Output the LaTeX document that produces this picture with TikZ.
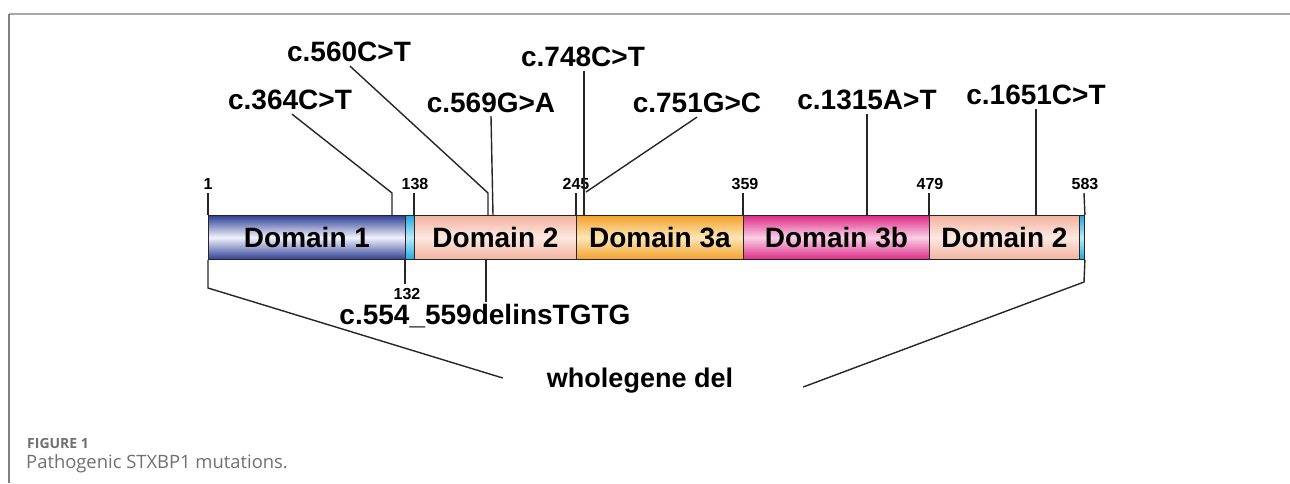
\documentclass[tikz,border=0pt]{standalone}
\usepackage{fontspec}
\setmainfont{Liberation Sans}
\newfontfamily\capfont{Open Sans}
\usetikzlibrary{calc}

\definecolor{framegray}{HTML}{A8A8A8}
\definecolor{framedark}{HTML}{808080}
\definecolor{capgray}{HTML}{707070}
\definecolor{dOneTop}{HTML}{2F3F96}
\definecolor{dOneMid}{HTML}{F0F2FB}
\definecolor{dTwoTop}{HTML}{F2B29E}
\definecolor{dTwoMid}{HTML}{FDE9E2}
\definecolor{dThreeATop}{HTML}{F3A12A}
\definecolor{dThreeAMid}{HTML}{FDE6B8}
\definecolor{dThreeBTop}{HTML}{DC2A86}
\definecolor{dThreeBMid}{HTML}{FAD0E5}
\definecolor{linkTop}{HTML}{1EA8E0}
\definecolor{linkMid}{HTML}{BDEBFA}

\newcommand{\domfont}{\fontsize{28}{30}\selectfont\bfseries}
\newcommand{\mutfont}{\fontsize{28}{30}\selectfont\bfseries}
\newcommand{\resfont}{\fontsize{16}{18}\selectfont\bfseries}

\tikzset{
  dom/.style={draw=black!85, line width=0.9pt, minimum height=44, inner sep=0,
              anchor=north west, font=\domfont},
  mut/.style={font=\mutfont, inner sep=0},
  resnum/.style={font=\resfont, inner sep=0},
  lead/.style={line width=1.4pt, draw=black!85},
  tickline/.style={line width=1.4pt, draw=black!85}
}

\begin{document}
\begin{tikzpicture}[x=1pt,y=-1pt]
\useasboundingbox (0,0) rectangle (1290,483);
\fill[white] (0,0) rectangle (1290,483);

% frame
\draw[framegray, line width=2pt] (9,14) -- (1290,14);
\draw[framedark, line width=1.6pt] (9,14) -- (9,483);

% protein bar
\node[dom, minimum width=197, top color=dOneTop, bottom color=dOneTop, middle color=dOneMid] (d1) at (208,215) {Domain 1};
\node[dom, minimum width=9, top color=linkTop, bottom color=linkTop, middle color=linkMid] (l1) at (405,215) {};
\node[dom, minimum width=162, top color=dTwoTop, bottom color=dTwoTop, middle color=dTwoMid] (d2) at (414,215) {Domain 2};
\node[dom, minimum width=167, top color=dThreeATop, bottom color=dThreeATop, middle color=dThreeAMid] (d3a) at (576,215) {Domain 3a};
\node[dom, minimum width=186, top color=dThreeBTop, bottom color=dThreeBTop, middle color=dThreeBMid] (d3b) at (743,215) {Domain 3b};
\node[dom, minimum width=150, top color=dTwoTop, bottom color=dTwoTop, middle color=dTwoMid] (d2b) at (929,215) {Domain 2};
\node[dom, minimum width=5, top color=linkTop, bottom color=linkTop, middle color=linkMid] (l2) at (1079,215) {};

% residue numbers and ticks
\node[resnum] (p1)   at (208,184) {1};
\node[resnum] (p138) at (415,184) {138};
\node[resnum] (p245) at (576,184) {245};
\node[resnum] (p359) at (745,184) {359};
\node[resnum] (p479) at (930,184) {479};
\node[resnum] (p583) at (1085,184) {583};
\node[resnum] (p132) at (407,294) {132};

\draw[tickline] (208,193) -- (d1.north west);
\draw[tickline] (414,193) -- (d2.north west);
\draw[tickline] (576,193) -- (d3a.north west);
\draw[tickline] (743,193) -- (d3b.north west);
\draw[tickline] (929,193) -- (d2b.north west);
\draw[tickline] (1084,193) -- (l2.north east);
\draw[tickline] (l1.south west) -- (405,284);

% mutation labels
\node[mut] (m560)  at (349,52)  {c.560C>T};
\node[mut] (m748)  at (583,57)  {c.748C>T};
\node[mut] (m364)  at (290,100) {c.364C>T};
\node[mut] (m569)  at (491,103) {c.569G>A};
\node[mut] (m751)  at (697,103) {c.751G>C};
\node[mut] (m1315) at (867,100) {c.1315A>T};
\node[mut] (m1651) at (1036,95) {c.1651C>T};
\node[mut] (mdel)  at (485,316) {c.554\_559delinsTGTG};
\node[mut, font=\fontsize{27}{29}\selectfont\bfseries] (whole) at (640,381) {wholegene del};

% leader lines
\coordinate (b364) at (392,193);
\coordinate (b560) at (488,193);
\coordinate (b751) at (586,192);
\draw[lead] ($(m364.south)+(2,4)$) -- (b364) -- (392,215);
\draw[lead] ($(m560.south)+(1,4)$) -- (b560) -- (488,215);
\draw[lead] ($(m569.south)+(0,3)$) -- (493,215);
\draw[lead] ($(m748.south)+(1,4)$) -- (584,215);
\draw[lead] ($(m751.south)+(0,4)$) -- (b751);
\draw[lead] ($(m1315.south)+(0,4)$) -- (867,215);
\draw[lead] ($(m1651.south)+(0,4)$) -- (1036,215);
\draw[lead] (486,259) -- ($(mdel.north)+(1,-2)$);

% whole-gene deletion brackets
\coordinate (wl) at (208,288);
\coordinate (wr) at (1084,282);
\draw[lead] (d1.south west) -- (wl) -- ($(whole.west)+(-44,-3)$);
\draw[lead] (l2.south east) -- (wr) -- ($(whole.east)+(70,6)$);

% caption
\node[anchor=base west, inner sep=0, text=capgray, font=\capfont\bfseries\fontsize{14}{16}\selectfont] (fig) at (27,448) {FIGURE 1};
\node[anchor=base west, inner sep=0, text=capgray, font=\capfont\fontsize{18.4}{20}\selectfont] (cap) at (26,468) {Pathogenic STXBP1 mutations.};
\end{tikzpicture}
\end{document}
